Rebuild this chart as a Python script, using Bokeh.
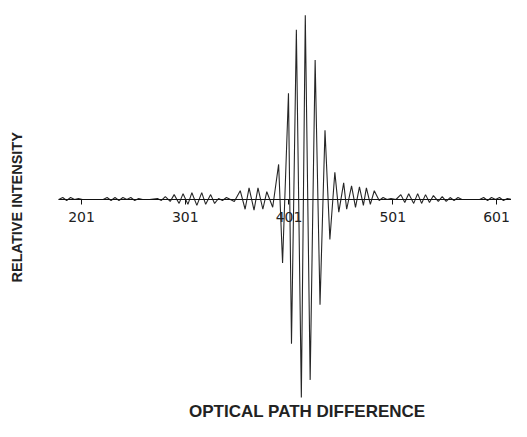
import math
from bokeh.plotting import figure
from bokeh.models import Range1d, FixedTicker, Label
from bokeh.embed import file_html
from bokeh.resources import INLINE

# Interferogram turning points (optical path difference, relative intensity)
opd = [179.1, 182.9, 186.7, 190.5, 194.3, 198.1, 202.0, 221.9, 225.7, 229.5, 233.3, 237.1,
       240.9, 244.7, 248.5, 252.3, 256.1, 259.9, 266.6, 274.2, 278.0, 281.8, 286.5, 290.3,
       295.1, 298.9, 303.6, 307.4, 312.2, 316.9, 320.7, 325.5, 329.3, 333.1, 336.9, 340.7,
       344.5, 348.3, 354.0, 358.7, 362.5, 367.3, 371.1, 375.8, 379.6, 385.3, 391.0, 394.8,
       400.5, 403.4, 408.1, 412.9, 416.7, 421.4, 426.2, 430.9, 435.7, 440.4, 445.2, 449.0,
       453.7, 456.6, 461.3, 465.1, 468.9, 472.7, 475.6, 479.4, 483.2, 487.9, 491.7, 495.5,
       499.3, 504.1, 508.8, 512.6, 516.4, 521.2, 525.0, 528.8, 532.6, 536.4, 540.2, 544.9,
       548.7, 552.5, 556.3, 560.1, 563.9, 567.7, 584.8, 588.6, 592.4, 596.2, 600.1, 603.9,
       607.7, 611.5, 615.3, 619.1, 622.9, 626.7]
intensity = [0.00, 0.02, -0.01, 0.02, 0.00, 0.01, 0.00, 0.00, 0.02, -0.01, 0.02, -0.01,
             0.02, 0.00, 0.02, -0.01, 0.01, 0.00, 0.00, 0.01, -0.01, 0.03, -0.02, 0.05,
             -0.04, 0.06, -0.05, 0.07, -0.06, 0.07, -0.05, 0.05, -0.04, 0.01, -0.01, 0.02,
             0.00, -0.02, 0.09, -0.10, 0.12, -0.11, 0.12, -0.10, 0.08, -0.08, 0.36, -0.65,
             1.09, -1.48, 1.74, -2.03, 1.89, -1.85, 1.43, -1.08, 0.71, -0.41, 0.28, -0.13,
             0.17, -0.10, 0.14, -0.08, 0.13, -0.06, 0.12, -0.05, 0.09, -0.01, 0.02, 0.00,
             0.01, 0.00, 0.05, -0.03, 0.06, -0.04, 0.06, -0.04, 0.05, -0.03, 0.04, -0.02,
             0.03, -0.02, 0.02, -0.01, 0.02, 0.00, 0.00, 0.02, -0.01, 0.02, 0.00, 0.02,
             -0.01, 0.01, 0.00, 0.02, -0.01, 0.00]

tick_values = [201, 301, 401, 501, 601]
x_title = "OPTICAL PATH DIFFERENCE"
y_title = "RELATIVE INTENSITY"

p = figure(width=511, height=421, output_backend="svg", toolbar_location=None,
           x_range=Range1d(122.93, 615.46), y_range=Range1d(-2.2769, 2.0410),
           min_border_left=0, min_border_right=0, min_border_top=0, min_border_bottom=0)
p.outline_line_color = None
p.grid.visible = False
p.yaxis.visible = False
p.background_fill_color = "white"
p.border_fill_color = "white"

p.line(opd, intensity, line_color="#262626", line_width=1.1)

ax = p.xaxis[0]
ax.fixed_location = 0
ax.bounds = (178.8, 615.46)
ax.ticker = FixedTicker(ticks=tick_values)
ax.axis_line_color = "#111111"
ax.axis_line_width = 1
ax.major_tick_out = 5
ax.major_tick_in = 0
ax.major_tick_line_color = "#111111"
ax.minor_tick_out = 0
ax.minor_tick_in = 0
ax.major_label_text_font = "DejaVu Sans"
ax.major_label_text_font_size = "14px"
ax.major_label_text_color = "#222222"
ax.major_label_standoff = 8

p.add_layout(Label(x=418.6, y=-2.2667, text=x_title, text_align="center",
                   text_baseline="bottom", text_font="Liberation Sans",
                   text_font_style="bold", text_font_size="17px", text_color="#222222"))
p.add_layout(Label(x=139.3, y=-0.08, text=y_title, angle=math.pi / 2,
                   text_align="center", text_baseline="middle",
                   text_font="Liberation Sans", text_font_style="bold",
                   text_font_size="14.5px", text_color="#222222"))

open("out.html", "w").write(file_html(p, INLINE))
